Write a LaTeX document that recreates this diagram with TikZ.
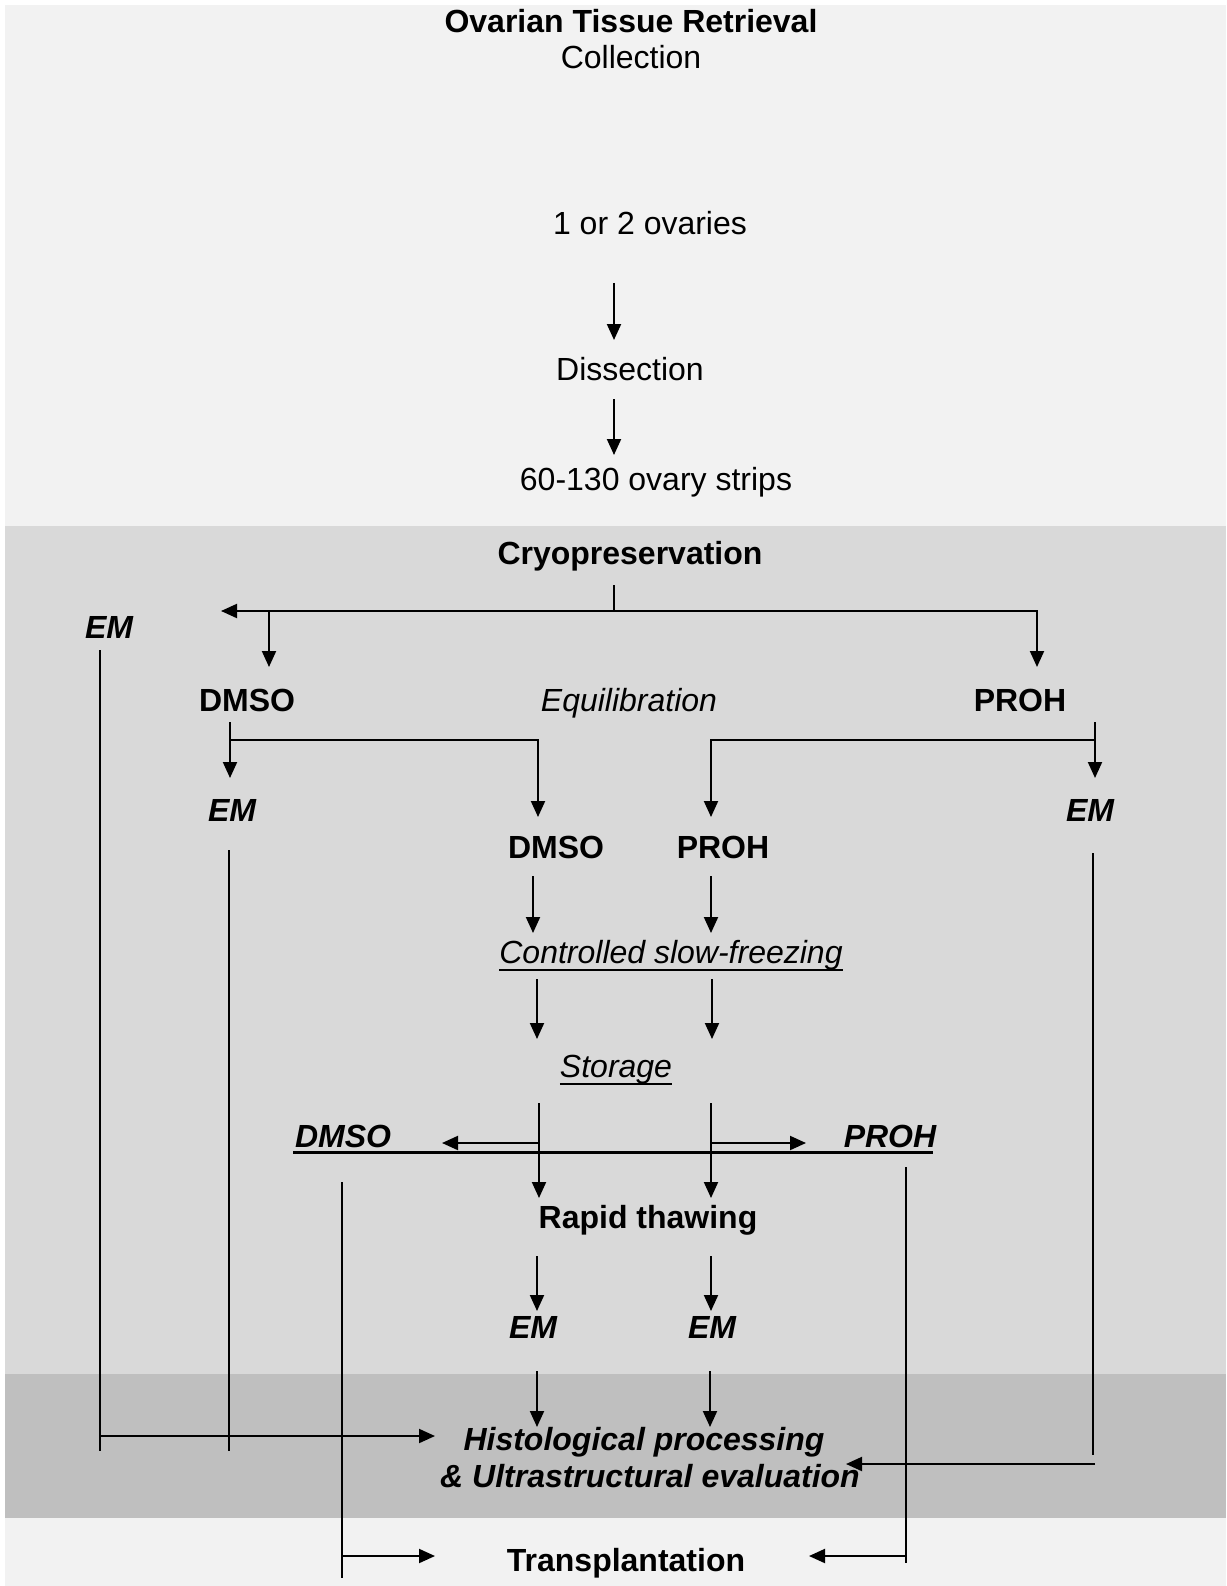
\documentclass[tikz,border=0pt]{standalone}
\usepackage{fontspec}
\setmainfont{Liberation Sans}
\usetikzlibrary{arrows.meta}
\definecolor{bandA}{HTML}{F2F2F2}
\definecolor{bandB}{HTML}{D9D9D9}
\definecolor{bandC}{HTML}{BFBFBF}
\tikzset{
  lbl/.style={inner sep=0pt, text height=23pt, text depth=0pt, font=\fontsize{32}{38}\selectfont},
  bl/.style={lbl, font=\fontsize{32}{38}\selectfont\bfseries},
  itl/.style={lbl, font=\fontsize{32}{38}\selectfont\itshape},
  bil/.style={lbl, font=\fontsize{32}{38}\selectfont\bfseries\itshape},
  arr/.style={line width=2pt, -{Triangle[length=16pt,width=14pt]}},
  ln/.style={line width=1.5pt},
  uln/.style={line width=2pt},
  thk/.style={line width=3pt},
}
\begin{document}
\begin{tikzpicture}[x=1pt,y=-1pt]
\useasboundingbox (0,0) rectangle (1226,1586);
\fill[white] (0,0) rectangle (1226,1586);
\fill[bandA] (5,5) rectangle (1226,526);
\fill[bandB] (5,526) rectangle (1226,1374);
\fill[bandC] (5,1374) rectangle (1226,1518);
\fill[bandA] (5,1518) rectangle (1226,1586);

% texts
\node[bl]  (n1) at (631,21) {Ovarian Tissue Retrieval};
\node[lbl] (n2) at (631,57) {Collection};
\node[lbl] (n3) at (650,223) {1 or 2 ovaries};
\node[lbl] (n4) at (630,369) {Dissection};
\node[lbl] (n5) at (656,479) {60-130 ovary strips};
\node[bl]  (cryo) at (630,553) {Cryopreservation};
\node[bil] (emL) at (109,627) {EM};
\node[bl]  (dmso1) at (247,700) {DMSO};
\node[itl] (equi) at (629,700) {Equilibration};
\node[bl]  (proh1) at (1020,700) {PROH};
\node[bil] (emDL) at (232,810) {EM};
\node[bil] (emPR) at (1090,810) {EM};
\node[bl]  (dmso2) at (556,847) {DMSO};
\node[bl]  (proh2) at (723,847) {PROH};
\node[itl] (csf) at (671,952) {Controlled slow-freezing};
\node[itl] (stor) at (616,1066) {Storage};
\node[bil] (dmso3) at (343,1136) {DMSO};
\node[bil] (proh3) at (890,1136) {PROH};
\node[bl]  (thaw) at (648,1217) {Rapid thawing};
\node[bil] (em1) at (533,1327) {EM};
\node[bil] (em2) at (712,1327) {EM};
\node[bil] (hist) at (644,1439) {Histological processing};
\node[bil] (ultra) at (650,1476) {\& Ultrastructural evaluation};
\node[bl]  (trans) at (626,1560) {Transplantation};

% underlines
\draw[uln] ([yshift=-6.5pt]csf.south west) -- ([yshift=-6.5pt]csf.south east);
\draw[uln] ([yshift=-6.5pt]stor.south west) -- ([yshift=-6.5pt]stor.south east);

% coordinates
\coordinate (a1) at (614,283); \coordinate (a1e) at (614,340);
\coordinate (a2) at (614,399); \coordinate (a2e) at (614,455);
\coordinate (t0) at (614,585); \coordinate (t1) at (614,611);
\coordinate (tl) at (221,611); \coordinate (tr) at (1037,667);
\coordinate (td) at (269,611); \coordinate (tde) at (269,667);
\coordinate (d1) at (230,722); \coordinate (d1e) at (230,778);
\coordinate (d2) at (230,740); \coordinate (d2e) at (538,817);
\coordinate (p1) at (1095,722); \coordinate (p1e) at (1095,778);
\coordinate (p2) at (1095,740); \coordinate (p2e) at (711,817);
\coordinate (l1) at (100,650); \coordinate (l1e) at (100,1451);
\coordinate (l1h) at (100,1436); \coordinate (l1he) at (435,1436);
\coordinate (l2) at (229,850); \coordinate (l2e) at (229,1451);
\coordinate (r1) at (1093,853); \coordinate (r1e) at (1093,1455);
\coordinate (r1h) at (1095,1464); \coordinate (r1he) at (846,1464);
\coordinate (m1) at (533,876); \coordinate (m1e) at (533,933);
\coordinate (m2) at (711,876); \coordinate (m2e) at (711,933);
\coordinate (m3) at (537,979); \coordinate (m3e) at (537,1039);
\coordinate (m4) at (712,979); \coordinate (m4e) at (712,1039);
\coordinate (m5) at (539,1103); \coordinate (m5e) at (539,1198);
\coordinate (m6) at (711,1103); \coordinate (m6e) at (711,1198);
\coordinate (ul0) at (293,1152); \coordinate (ul1) at (933,1152);
\coordinate (s1) at (539,1143); \coordinate (s1e) at (442,1143);
\coordinate (s2) at (711,1143); \coordinate (s2e) at (806,1143);
\coordinate (v1) at (342,1182); \coordinate (v1e) at (342,1578);
\coordinate (v1h) at (342,1556); \coordinate (v1he) at (435,1556);
\coordinate (v2) at (906,1167); \coordinate (v2e) at (906,1563);
\coordinate (v2h) at (906,1556); \coordinate (v2he) at (809,1556);
\coordinate (e1) at (537,1256); \coordinate (e1e) at (537,1311);
\coordinate (e2) at (711,1256); \coordinate (e2e) at (711,1311);
\coordinate (h1) at (537,1371); \coordinate (h1e) at (537,1427);
\coordinate (h2) at (710,1371); \coordinate (h2e) at (710,1427);

% connectors
\draw[arr] (a1) -- (a1e);
\draw[arr] (a2) -- (a2e);
\draw[ln] (t0) -- (t1);
\draw[arr] (t1) -- (tl);
\draw[arr] (t1) -| (tr);
\draw[arr] (td) -- (tde);
\draw[arr] (d1) -- (d1e);
\draw[arr] (d2) -| (d2e);
\draw[arr] (p1) -- (p1e);
\draw[arr] (p2) -| (p2e);
\draw[ln] (l1) -- (l1e);
\draw[arr] (l1h) -- (l1he);
\draw[ln] (l2) -- (l2e);
\draw[ln] (r1) -- (r1e);
\draw[arr] (r1h) -- (r1he);
\draw[arr] (m1) -- (m1e);
\draw[arr] (m2) -- (m2e);
\draw[arr] (m3) -- (m3e);
\draw[arr] (m4) -- (m4e);
\draw[arr] (m5) -- (m5e);
\draw[arr] (m6) -- (m6e);
\draw[thk] (ul0) -- (ul1);
\draw[arr] (s1) -- (s1e);
\draw[arr] (s2) -- (s2e);
\draw[ln] (v1) -- (v1e);
\draw[arr] (v1h) -- (v1he);
\draw[ln] (v2) -- (v2e);
\draw[arr] (v2h) -- (v2he);
\draw[arr] (e1) -- (e1e);
\draw[arr] (e2) -- (e2e);
\draw[arr] (h1) -- (h1e);
\draw[arr] (h2) -- (h2e);
\end{tikzpicture}
\end{document}
